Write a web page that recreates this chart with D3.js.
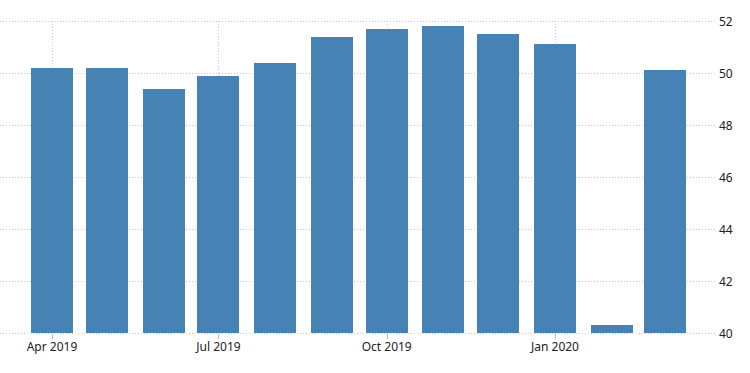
<!DOCTYPE html>
<html><head><meta charset="utf-8">
<script src="https://cdn.jsdelivr.net/npm/d3@7"></script>
<style>
html,body{margin:0;padding:0;background:#fff;}
svg{display:block;}
text{font-family:"Noto Sans","DejaVu Sans",sans-serif;}
</style></head>
<body><svg id="c" width="750" height="373"></svg>
<script>
const months = ["2019-04","2019-05","2019-06","2019-07","2019-08","2019-09","2019-10","2019-11","2019-12","2020-01","2020-02","2020-03"];
const values = [50.2,50.2,49.4,49.9,50.4,51.4,51.7,51.8,51.5,51.1,40.3,50.1];
const yTicks = [40,42,44,46,48,50,52];
const xTickDates = ["2019-04","2019-07","2019-10","2020-01"];
const xTickLabels = ["Apr 2019","Jul 2019","Oct 2019","Jan 2020"];

const parse = d3.utcParse("%Y-%m");
const W = 750, H = 373;
const plotLeft = 0, plotRight = 717, plotTop = 21, plotBottom = 333;

const x = d3.scaleUtc()
  .domain([parse("2019-04"), parse("2020-01")])
  .range([52, 555]);
const y = d3.scaleLinear().domain([40, 52]).range([plotBottom, plotTop]);

const svg = d3.select("#c");
const grid = "#c8c8c8";

// horizontal grid
svg.append("g").selectAll("line").data(yTicks).join("line")
  .attr("x1", plotLeft).attr("x2", plotRight)
  .attr("y1", d => Math.round(y(d)) + 0.5).attr("y2", d => Math.round(y(d)) + 0.5)
  .attr("stroke", grid).attr("stroke-width", 1).attr("stroke-dasharray", "1,2");

// vertical grid
svg.append("g").selectAll("line").data(xTickDates).join("line")
  .attr("x1", d => Math.round(x(parse(d))) + 0.5).attr("x2", d => Math.round(x(parse(d))) + 0.5)
  .attr("y1", plotTop).attr("y2", plotBottom)
  .attr("stroke", grid).attr("stroke-width", 1).attr("stroke-dasharray", "1,2");

// bars
const barW = 42;
svg.append("g").selectAll("rect").data(months).join("rect")
  .attr("x", (d) => Math.round(x(parse(d)) - barW / 2))
  .attr("width", barW)
  .attr("y", (d, i) => Math.round(y(values[i])))
  .attr("height", (d, i) => plotBottom - Math.round(y(values[i])))
  .attr("fill", "#4682b4");

// x ticks
svg.append("g").selectAll("line").data(xTickDates).join("line")
  .attr("x1", d => Math.round(x(parse(d))) + 0.5).attr("x2", d => Math.round(x(parse(d))) + 0.5)
  .attr("y1", plotBottom + 1).attr("y2", plotBottom + 6)
  .attr("stroke", "#c0c0c0");

svg.append("g").selectAll("text").data(xTickDates).join("text")
  .attr("x", d => x(parse(d)))
  .attr("y", 351)
  .attr("text-anchor", "middle")
  .attr("font-size", 12)
  .attr("fill", "#222")
  .text((d, i) => xTickLabels[i]);

// y labels
svg.append("g").selectAll("text").data(yTicks).join("text")
  .attr("x", 719)
  .attr("y", d => y(d) + 4.5)
  .attr("font-size", 12)
  .attr("fill", "#222")
  .text(d => d);
</script></body></html>
